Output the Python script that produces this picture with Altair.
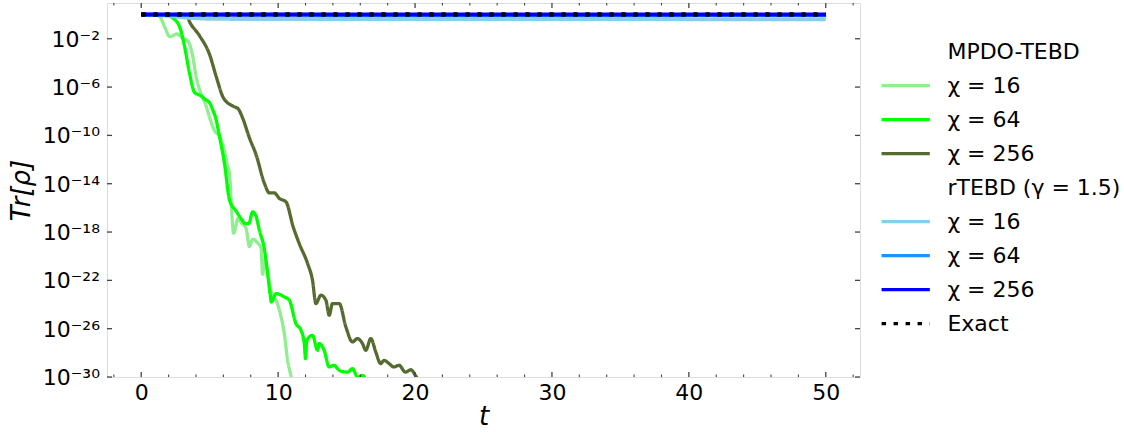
import altair as alt
import pandas as pd

FONT = "DejaVu Sans"

# ---- data: t and log10(Tr[rho]) ----
m16_t = [0, 1.0, 1.35, 1.71, 2.08, 2.3, 2.6, 3.04, 3.41, 3.77, 4.02, 4.26, 4.5, 4.75, 4.99, 5.35,
         5.72, 6.08, 6.3, 6.45, 6.57, 6.75, 6.81, 7.05, 7.35, 7.66, 7.9, 8.14, 8.5, 8.75, 8.87,
         9.0, 9.12, 9.3, 9.6, 9.85, 10.21, 10.45, 10.69, 10.94, 11.2]
m16_log = [0, -0.02, -0.17, -1.0, -1.83, -1.75, -1.6, -1.96, -2.2, -3.49, -5.2, -6.2, -6.9, -7.6, -8.5, -9.6,
           -10.1, -11.3, -12.5, -13.2, -15.5, -18.1, -18.0, -16.9, -17.3, -17.7, -19.2, -18.6, -18.9, -19.3, -21.5,
           -20.3, -20.6, -21.8, -23.37, -23.65, -25.0, -26.4, -28.6, -29.9, -31.0]

m64_t = [0, 1.8, 2.2, 2.8, 3.17, 3.53, 3.9, 4.26, 4.75, 5.0, 5.23, 5.45, 5.6, 5.77, 6.08, 6.45, 6.93,
         7.3, 7.6, 7.85, 8.14, 8.39, 8.63, 9.0, 9.24, 9.42, 9.5, 9.85, 10.45, 10.82, 11.3, 11.67, 11.91,
         12.0, 12.1, 12.51, 12.88, 13.0, 13.36, 13.73, 14.09, 14.46, 15.07, 15.43, 15.8, 16.16, 16.5]
m64_log = [0, -0.02, -0.2, -1.0, -2.66, -4.86, -6.45, -6.66, -7.08, -7.3, -7.9, -8.6, -9.4, -10.39, -12.32,
           -15.36, -16.26, -16.9, -17.3, -17.3, -16.33, -16.7, -17.85, -19.45, -21.5, -23.2, -23.79, -23.09,
           -23.37, -23.65, -25.58, -26.13, -27.23, -28.48, -26.96, -26.55, -27.79, -27.23, -27.79, -29.17,
           -29.03, -29.45, -29.6, -29.3, -30.0, -29.86, -30.5]

m256_t = [0, 3.3, 3.53, 4.26, 4.99, 5.48, 5.96, 6.3, 6.57, 6.93, 7.05, 7.42, 7.9, 8.39, 9.0, 9.36, 9.72,
          10.09, 10.57, 11.1, 11.54, 12.15, 12.51, 12.76, 13.12, 13.49, 13.73, 13.97, 14.46, 14.95, 15.43,
          15.79, 16.16, 16.4, 16.77, 17.13, 17.49, 17.73, 18.1, 18.46, 18.83, 19.3, 19.7, 20.1, 20.6]
m256_log = [0, -0.02, -0.59, -1.75, -3.3, -5.14, -6.8, -7.3, -7.49, -7.7, -7.76, -8.6, -10.2, -11.6, -13.98,
            -14.76, -14.76, -15.22, -15.5, -17.57, -18.95, -20.6, -21.99, -23.92, -23.23, -23.65, -24.89,
            -23.92, -23.92, -25.86, -27.1, -26.82, -27.23, -27.79, -26.82, -27.93, -28.89, -28.62, -28.89,
            -29.17, -29.03, -29.6, -29.4, -30.0, -30.6]

r16_t = [0, 1, 2, 3, 4, 5, 8, 30, 50]
r16_log = [0, -0.02, -0.1, -0.22, -0.3, -0.34, -0.36, -0.37, -0.38]

r64_t = [0, 2, 5, 50]
r64_log = [0, -0.01, -0.02, -0.03]

r256_t = [0, 50]
r256_log = [0, 0]

exact_t = [0, 50]
exact_log = [0, 0]

# legend / series
series_names = ["MPDO-TEBD", "χ = 16", "χ = 64", "χ = 256", "rTEBD (γ = 1.5)",
                "χ = 16 ", "χ = 64 ", "χ = 256 ", "Exact"]
series_colors = ["transparent", "#90EE90", "#00FF00", "#556B2F", "transparent",
                 "#87CEEB", "#1E90FF", "#0000FF", "#000000"]
series_dash = [[1, 0]] * 8 + [[4.5, 7.5]]

# ticks
x_major = [0, 10, 20, 30, 40, 50]
x_minor = [-2, 2, 4, 6, 8, 12, 14, 16, 18, 22, 24, 26, 28, 32, 34, 36, 38, 42, 44, 46, 48, 52]
y_major = [1e-30, 1e-26, 1e-22, 1e-18, 1e-14, 1e-10, 1e-6, 1e-2]
y_labels = ["10⁻³⁰", "10⁻²⁶", "10⁻²²", "10⁻¹⁸", "10⁻¹⁴", "10⁻¹⁰", "10⁻⁶", "10⁻²"]
x_labels_vals = [0, 10, 20, 30, 40, 50]

# ---- build tables ----
rows = []
for name, ts, ls in [("χ = 16", m16_t, m16_log), ("χ = 64", m64_t, m64_log), ("χ = 256", m256_t, m256_log),
                     ("χ = 16 ", r16_t, r16_log), ("χ = 64 ", r64_t, r64_log), ("χ = 256 ", r256_t, r256_log),
                     ("Exact", exact_t, exact_log)]:
    for t, l in zip(ts, ls):
        rows.append({"series": name, "t": t, "value": 10.0 ** l})
df = pd.DataFrame(rows)

W, H = 753, 374
XDOM = [-2.5, 52.5]
YDOM = [1e-30, 10 ** 0.96]

xscale = alt.Scale(domain=XDOM, nice=False, zero=False)
yscale = alt.Scale(type="log", domain=YDOM, nice=False)

xaxis = alt.Axis(values=x_labels_vals, title="t", titleFontStyle="italic", titleFontSize=26,
                 titleFont=FONT, titleFontWeight="normal", titleColor="black", titlePadding=0,
                 labelFont=FONT, labelFontSize=22, labelColor="black", labelPadding=5,
                 ticks=False, domain=False, grid=False, format="d")
yaxis = alt.Axis(title="Tr[ρ]", titleFontStyle="italic", titleFontSize=26, titleFont=FONT,
                 titleFontWeight="normal", titleColor="black", titlePadding=73,
                 labels=False, ticks=False, domain=False, grid=False)


def X(field):
    return alt.X(field, type="quantitative", scale=xscale, axis=xaxis)


def Y(field):
    return alt.Y(field, type="quantitative", scale=yscale, axis=yaxis)


legend = alt.Legend(title=None, orient="none", legendX=772.7, legendY=32.0, symbolType="stroke",
                    symbolSize=2333, symbolStrokeWidth=3.3, labelFont=FONT, labelFontSize=22,
                    labelColor="black", clipHeight=33.15, rowPadding=0, labelOffset=15.7, padding=0,
                    labelLimit=400)
color_enc = alt.Color("series:N", scale=alt.Scale(domain=series_names, range=series_colors), legend=legend)
dash_enc = alt.StrokeDash("series:N", scale=alt.Scale(domain=series_names, range=series_dash), legend=legend)

layers = []
for name in ["χ = 16", "χ = 64", "χ = 256", "χ = 16 ", "χ = 64 ", "χ = 256 ", "Exact"]:
    sw = 4.5 if name == "Exact" else (4 if name in ("χ = 16 ", "χ = 64 ", "χ = 256 ") else 3.3)
    layers.append(
        alt.Chart(df).transform_filter(alt.datum.series == name)
        .mark_line(clip=True, strokeWidth=sw, strokeCap="butt", interpolate="monotone")
        .encode(x=X("t"), y=Y("value"), color=color_enc, strokeDash=dash_enc, order="t:Q")
    )

tick_color = "#444444"
xmaj = pd.DataFrame({"t": x_major})
xmin = pd.DataFrame({"t": x_minor})
ymaj = pd.DataFrame({"value": y_major, "label": y_labels})

ticks = [
    alt.Chart(xmaj).mark_rule(color=tick_color, strokeWidth=1.3).encode(x=X("t"), y=alt.value(H), y2=alt.value(H - 5)),
    alt.Chart(xmaj).mark_rule(color=tick_color, strokeWidth=1.3).encode(x=X("t"), y=alt.value(0), y2=alt.value(5)),
    alt.Chart(xmin).mark_rule(color=tick_color, strokeWidth=1.1).encode(x=X("t"), y=alt.value(H), y2=alt.value(H - 2.5)),
    alt.Chart(xmin).mark_rule(color=tick_color, strokeWidth=1.1).encode(x=X("t"), y=alt.value(0), y2=alt.value(2.5)),
    alt.Chart(ymaj).mark_rule(color=tick_color, strokeWidth=1.3).encode(y=Y("value"), x=alt.value(0), x2=alt.value(5)),
    alt.Chart(ymaj).mark_rule(color=tick_color, strokeWidth=1.3).encode(y=Y("value"), x=alt.value(W), x2=alt.value(W - 5)),
    alt.Chart(ymaj).mark_text(font=FONT, fontSize=22, align="right", baseline="middle", dy=1, color="black")
    .encode(y=Y("value"), x=alt.value(-7), text="label:N"),
]

chart = alt.layer(*layers, *ticks).properties(
    width=W, height=H,
    autosize=alt.AutoSizeParams(type="none"),
    padding={"left": 107, "top": 3, "right": 1124 - 107 - W, "bottom": 432 - 3 - H},
).configure_view(stroke="#4d4d4d", strokeWidth=1.5).configure(background="white")

chart.save("out.html", embed_options={"renderer": "svg", "actions": False})
